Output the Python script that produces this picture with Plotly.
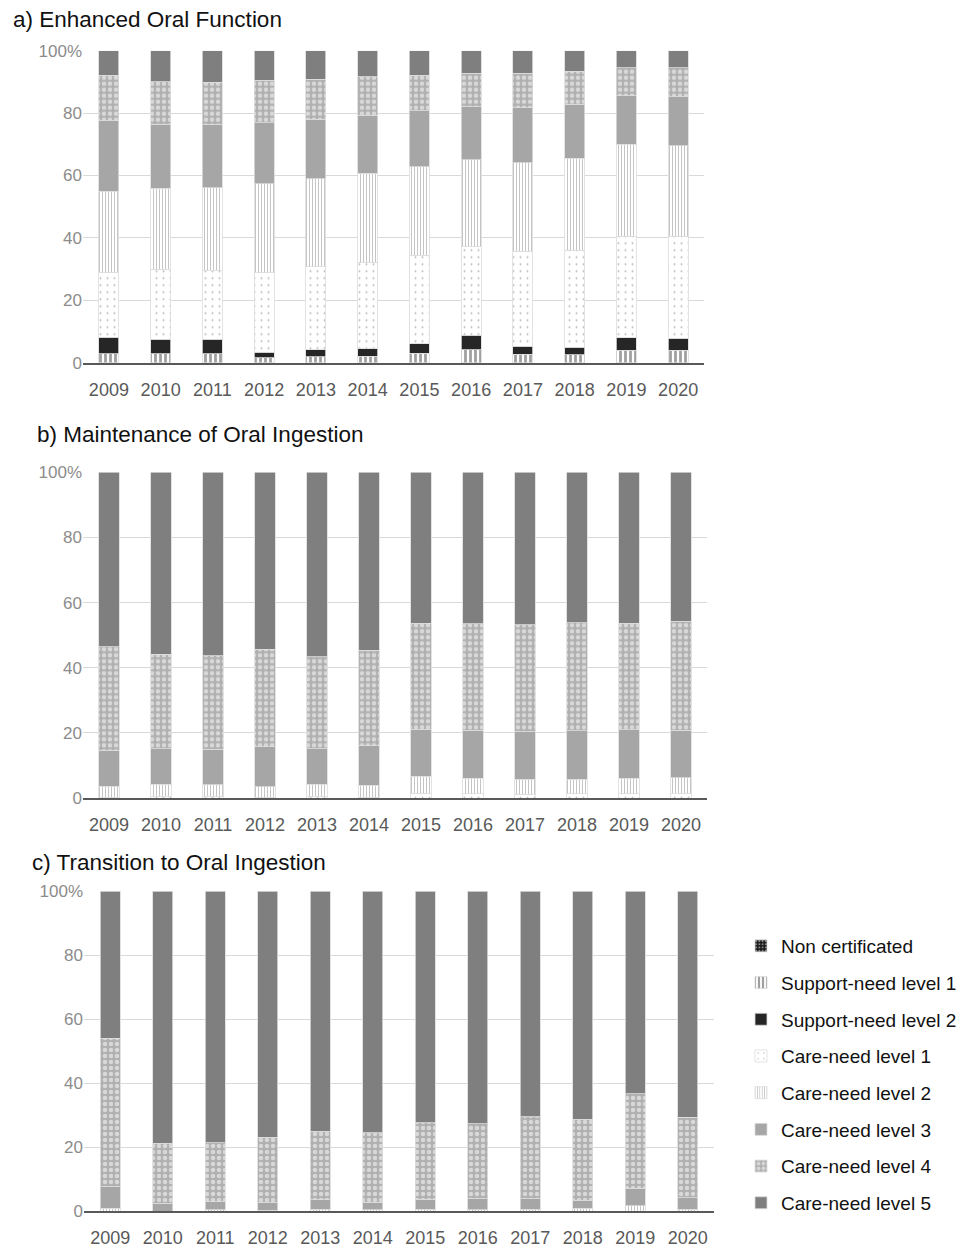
import plotly.graph_objects as go

# ---- data (percent of patients by certification level) ----
YEARS = ["2009", "2010", "2011", "2012", "2013", "2014",
         "2015", "2016", "2017", "2018", "2019", "2020"]

CATEGORIES = ["Non certificated", "Support-need level 1", "Support-need level 2",
              "Care-need level 1", "Care-need level 2", "Care-need level 3",
              "Care-need level 4", "Care-need level 5"]

PANEL_TITLES = ["a) Enhanced Oral Function",
                "b) Maintenance of Oral Ingestion",
                "c) Transition to Oral Ingestion"]

Y_TICKS = [0, 20, 40, 60, 80, 100]
Y_TICK_TEXT = ["0", "20", "40", "60", "80", "100%"]

# a) Enhanced Oral Function
ENHANCED = {
    "Non certificated":     [0.0, 0.0, 0.0, 0.0, 0.0, 0.0, 0.0, 0.0, 0.0, 0.0, 0.0, 0.0],
    "Support-need level 1": [2.9, 2.9, 2.9, 1.6, 1.9, 2.1, 3.1, 4.1, 2.7, 2.5, 4.0, 4.0],
    "Support-need level 2": [5.2, 4.6, 4.6, 1.7, 2.2, 2.4, 3.0, 4.7, 2.6, 2.4, 4.0, 3.8],
    "Care-need level 1":    [20.9, 22.4, 22.0, 25.5, 26.7, 27.7, 28.4, 28.3, 30.5, 31.2, 32.6, 32.8],
    "Care-need level 2":    [25.9, 26.0, 26.6, 28.6, 28.2, 28.5, 28.3, 27.9, 28.3, 29.4, 29.4, 29.0],
    "Care-need level 3":    [22.7, 20.5, 20.1, 19.5, 19.1, 18.6, 17.9, 17.1, 17.6, 17.4, 15.5, 15.7],
    "Care-need level 4":    [14.6, 13.7, 13.7, 13.6, 12.7, 12.3, 11.5, 10.7, 11.1, 10.5, 9.1, 9.3],
    "Care-need level 5":    [7.8, 9.9, 10.1, 9.5, 9.2, 8.4, 7.8, 7.2, 7.2, 6.6, 5.4, 5.4],
}

# b) Maintenance of Oral Ingestion
MAINTENANCE = {
    "Non certificated":     [0.0, 0.0, 0.0, 0.0, 0.0, 0.0, 0.0, 0.0, 0.0, 0.0, 0.0, 0.0],
    "Support-need level 1": [0.0, 0.0, 0.0, 0.0, 0.0, 0.0, 0.0, 0.0, 0.0, 0.0, 0.0, 0.0],
    "Support-need level 2": [0.0, 0.0, 0.0, 0.0, 0.0, 0.0, 0.0, 0.0, 0.0, 0.0, 0.0, 0.0],
    "Care-need level 1":    [0.3, 0.4, 0.4, 0.3, 0.4, 0.3, 1.4, 1.3, 1.2, 1.3, 1.3, 1.3],
    "Care-need level 2":    [3.3, 3.8, 3.7, 3.2, 3.8, 3.6, 5.3, 4.7, 4.5, 4.5, 4.7, 4.9],
    "Care-need level 3":    [11.1, 10.9, 10.8, 12.3, 10.9, 12.1, 14.4, 14.8, 14.7, 14.9, 15.0, 14.6],
    "Care-need level 4":    [31.7, 29.0, 28.7, 29.9, 28.2, 29.4, 32.5, 32.7, 32.8, 33.1, 32.7, 33.5],
    "Care-need level 5":    [53.6, 55.9, 56.4, 54.3, 56.7, 54.6, 46.4, 46.5, 46.8, 46.2, 46.3, 45.7],
}

# c) Transition to Oral Ingestion
TRANSITION = {
    "Non certificated":     [0.0, 0.0, 0.0, 0.0, 0.0, 0.0, 0.0, 0.0, 0.0, 0.0, 0.0, 0.0],
    "Support-need level 1": [0.0, 0.0, 0.0, 0.0, 0.0, 0.0, 0.0, 0.0, 0.0, 0.0, 0.0, 0.0],
    "Support-need level 2": [0.0, 0.0, 0.0, 0.0, 0.0, 0.0, 0.0, 0.0, 0.0, 0.0, 0.0, 0.0],
    "Care-need level 1":    [0.0, 0.0, 0.0, 0.0, 0.0, 0.0, 0.0, 0.0, 0.0, 0.0, 0.0, 0.0],
    "Care-need level 2":    [0.8, 0.0, 0.4, 0.3, 0.5, 0.4, 0.6, 0.4, 0.5, 0.9, 1.6, 0.5],
    "Care-need level 3":    [6.8, 2.4, 2.5, 2.4, 3.0, 2.4, 3.0, 3.4, 3.3, 2.5, 5.5, 3.6],
    "Care-need level 4":    [46.4, 18.7, 18.5, 20.3, 21.5, 21.7, 24.0, 23.4, 25.7, 25.2, 29.5, 25.2],
    "Care-need level 5":    [46.0, 78.9, 78.6, 77.0, 75.0, 75.5, 72.4, 72.8, 70.5, 71.4, 63.4, 70.7],
}

PANELS = [ENHANCED, MAINTENANCE, TRANSITION]

# ---- styling ----
W, H = 969, 1247
FONT = "Liberation Sans, Arial, sans-serif"

# fill for each certification level: solid grey or a grey pattern
STYLES = {
    "Non certificated":     dict(color="#1a1a1a", pattern=dict(shape=".", fgcolor="white", bgcolor="#1a1a1a", size=4, solidity=0.3)),
    "Support-need level 1": dict(color="#404040", pattern=dict(shape="|", fgcolor="#404040", bgcolor="white", size=5, solidity=0.55)),
    "Support-need level 2": dict(color="#262626"),
    "Care-need level 1":    dict(color="#808080", pattern=dict(shape=".", fgcolor="#707070", bgcolor="white", size=7, solidity=0.06)),
    "Care-need level 2":    dict(color="#8c8c8c", pattern=dict(shape="|", fgcolor="#8c8c8c", bgcolor="white", size=3, solidity=0.35)),
    "Care-need level 3":    dict(color="#a6a6a6"),
    "Care-need level 4":    dict(color="#b0b0b0", pattern=dict(shape=".", fgcolor="white", bgcolor="#b0b0b0", size=6, solidity=0.45)),
    "Care-need level 5":    dict(color="#7f7f7f"),
}

# plot areas in pixels: (left, right, top, bottom)
AREAS = [(83, 704, 50.7, 362.7), (83, 707, 472.3, 798), (84, 714, 891, 1211)]
TITLE_POS = [(11, 20), (35, 435), (30, 862)]

fig = go.Figure()

for i, data in enumerate(PANELS):
    suffix = "" if i == 0 else str(i + 1)
    for cat in CATEGORIES:
        st = STYLES[cat]
        marker = dict(color=st["color"], line=dict(color="#dcdcdc", width=0.8))
        if "pattern" in st:
            marker["pattern"] = st["pattern"]
        fig.add_trace(go.Bar(
            x=YEARS, y=data[cat], name=cat, legendgroup=cat,
            showlegend=(i == 2), marker=marker,
            xaxis="x" + suffix, yaxis="y" + suffix,
            hovertemplate="%{x}: %{y:.1f}%<extra>" + cat + "</extra>",
        ))

layout = dict(
    width=W, height=H, margin=dict(l=0, r=0, t=0, b=0, autoexpand=False),
    paper_bgcolor="white", plot_bgcolor="white",
    barmode="stack", bargap=0.61,
    font=dict(family=FONT, color="#000000"),
    legend=dict(
        x=741 / W, xanchor="left", y=1 - 927 / H, yanchor="top",
        traceorder="grouped", tracegroupgap=9,
        font=dict(size=19, color="#111111"), bgcolor="rgba(0,0,0,0)",
    ),
    annotations=[],
)

for i, (l, r, t, b) in enumerate(AREAS):
    suffix = "" if i == 0 else str(i + 1)
    layout["xaxis" + suffix] = dict(
        domain=[l / W, r / W], anchor="y" + suffix, type="category",
        showline=True, linecolor="#595959", linewidth=1.5,
        ticks="", tickfont=dict(size=18, color="#595959"),
        ticklabelstandoff=10, showgrid=False, fixedrange=True, automargin=False,
    )
    layout["yaxis" + suffix] = dict(
        domain=[1 - b / H, 1 - t / H], anchor="x" + suffix,
        range=[0, 100], tickvals=Y_TICKS, ticktext=Y_TICK_TEXT,
        showgrid=True, gridcolor="#d9d9d9", gridwidth=1,
        zeroline=False, showline=False, ticks="",
        tickfont=dict(size=17, color="#8c8c8c"), fixedrange=True, automargin=False,
    )

for (x, y), text in zip(TITLE_POS, PANEL_TITLES):
    layout["annotations"].append(dict(
        text=text, xref="paper", yref="paper", x=x / W, y=1 - y / H,
        xanchor="left", yanchor="middle", showarrow=False,
        font=dict(size=22.5, color="#111111", family=FONT),
    ))

fig.update_layout(**layout)
fig.write_html("out.html")
